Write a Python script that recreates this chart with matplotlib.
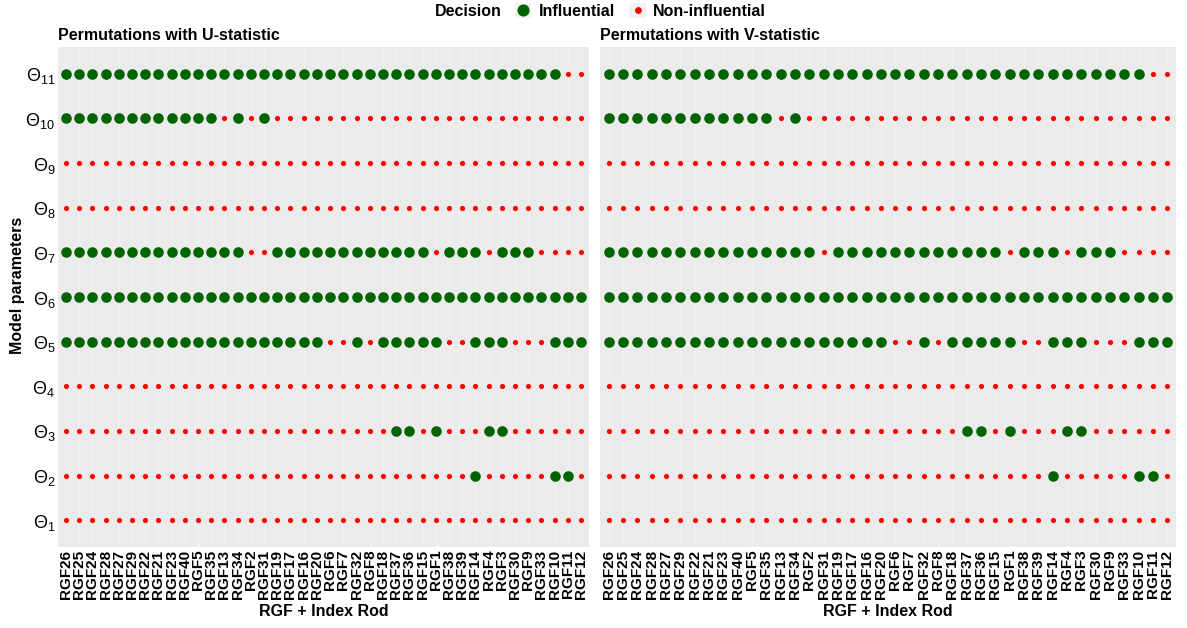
import numpy as np
import matplotlib.pyplot as plt
from matplotlib.patches import Rectangle
from matplotlib.legend_handler import HandlerTuple
from matplotlib.offsetbox import HPacker

plt.rcParams['font.family'] = ['Liberation Sans', 'DejaVu Sans']
plt.rcParams['mathtext.fontset'] = 'custom'
plt.rcParams['mathtext.rm'] = 'Liberation Sans'
plt.rcParams['mathtext.it'] = 'Liberation Sans'

# rod order on the x axis
rods = ["RGF26", "RGF25", "RGF24", "RGF28", "RGF27", "RGF29", "RGF22", "RGF21",
        "RGF23", "RGF40", "RGF5", "RGF35", "RGF13", "RGF34", "RGF2", "RGF31",
        "RGF19", "RGF17", "RGF16", "RGF20", "RGF6", "RGF7", "RGF32", "RGF8",
        "RGF18", "RGF37", "RGF36", "RGF15", "RGF1", "RGF38", "RGF39", "RGF14",
        "RGF4", "RGF3", "RGF30", "RGF9", "RGF33", "RGF10", "RGF11", "RGF12"]

params = [r"$\Theta_{%d}$" % k for k in range(1, 12)]

# indices (into rods) that are influential, per parameter, U-statistic
u_influential = {
    1: [],
    2: [31, 37, 38],
    3: [25, 26, 28, 32, 33],
    4: [],
    5: list(range(0, 20)) + [22] + list(range(24, 29)) + [31, 32, 33, 37, 38, 39],
    6: list(range(0, 40)),
    7: list(range(0, 14)) + list(range(16, 28)) + [29, 30, 31, 33, 34, 35],
    8: [],
    9: [],
    10: list(range(0, 12)) + [13, 15],
    11: list(range(0, 38)),
}

# V-statistic
v_influential = {
    1: [],
    2: [31, 37, 38],
    3: [25, 26, 28, 32, 33],
    4: [],
    5: list(range(0, 20)) + [22] + list(range(24, 29)) + [31, 32, 33, 37, 38, 39],
    6: list(range(0, 40)),
    7: list(range(0, 15)) + list(range(16, 28)) + [29, 30, 31, 33, 34, 35],
    8: [],
    9: [],
    10: list(range(0, 12)) + [13],
    11: list(range(0, 38)),
}

green = "#006400"
red = "#FF0000"
W, H = 1187, 628

fig = plt.figure(figsize=(W / 100, H / 100), dpi=100)


def panel(rect, infl, title, show_y):
    ax = fig.add_axes(rect)
    ax.set_facecolor("#EBEBEB")
    n = len(rods)
    for p in range(1, 12):
        yes = np.zeros(n, dtype=bool)
        yes[infl[p]] = True
        x = np.arange(n)
        ax.scatter(x[~yes], np.full((~yes).sum(), p - 1), s=14, color=red, zorder=3, linewidths=0)
        ax.scatter(x[yes], np.full(yes.sum(), p - 1), s=58, color=green, zorder=3, linewidths=0)
    ax.set_xlim(-0.6, n - 0.4)
    ax.set_ylim(-0.6, 10.6)
    ax.set_xticks(range(n))
    ax.set_xticklabels(rods, rotation=90, fontsize=11, fontweight="bold")
    ax.set_yticks(range(11))
    if show_y:
        ax.set_yticklabels(params, fontsize=13)
    else:
        ax.set_yticklabels([])
    ax.tick_params(length=0, pad=2, colors="black")
    ax.grid(axis="x", color="#F2F2F2", linewidth=0.6, zorder=0)
    ax.set_axisbelow(True)
    for s in ax.spines.values():
        s.set_visible(False)
    ax.set_title(title, loc="left", fontsize=11.5, fontweight="bold", pad=5)
    return ax


top, bot = 47, 547
axl = panel([58 / W, 1 - bot / H, (589 - 58) / W, (bot - top) / H],
            u_influential, "Permutations with U-statistic", True)
axr = panel([600 / W, 1 - bot / H, (1176 - 600) / W, (bot - top) / H],
            v_influential, "Permutations with V-statistic", False)

fig.text((58 + 589) / 2 / W, 1 - 611 / H, "RGF + Index Rod", fontsize=11.5,
         fontweight="bold", ha="center", va="center")
fig.text((600 + 1176) / 2 / W, 1 - 611 / H, "RGF + Index Rod", fontsize=11.5,
         fontweight="bold", ha="center", va="center")
fig.text(18 / W, 1 - 285 / H, "Model parameters", rotation=90, fontsize=11.5,
         fontweight="bold", ha="center", va="center")

# legend at the top, keys on grey squares like ggplot
key_bg = dict(facecolor="#F2F2F2", edgecolor="none")
h1 = (Rectangle((0, 0), 1, 1, **key_bg),
      plt.Line2D([], [], marker="o", linestyle="", color=green, markersize=7.7))
h2 = (Rectangle((0, 0), 1, 1, **key_bg),
      plt.Line2D([], [], marker="o", linestyle="", color=red, markersize=3.9))
leg = fig.legend([h1, h2], ["Influential", "Non-influential"], ncol=2,
                 loc="center", bbox_to_anchor=(0.506, 1 - 11 / H), frameon=False,
                 title="Decision", handlelength=1.05, handleheight=1.05,
                 handletextpad=0.45, columnspacing=0.9, borderpad=0.0,
                 handler_map={tuple: HandlerTuple(ndivide=1, pad=0)},
                 prop={"size": 11.5, "weight": "bold"},
                 title_fontproperties={"size": 11.5, "weight": "bold"})
# put the title on the same row as the entries
leg._legend_box.__class__ = HPacker
leg._legend_box.sep = 9
leg._legend_box.align = "center"

fig.savefig("out.png", dpi=100)
